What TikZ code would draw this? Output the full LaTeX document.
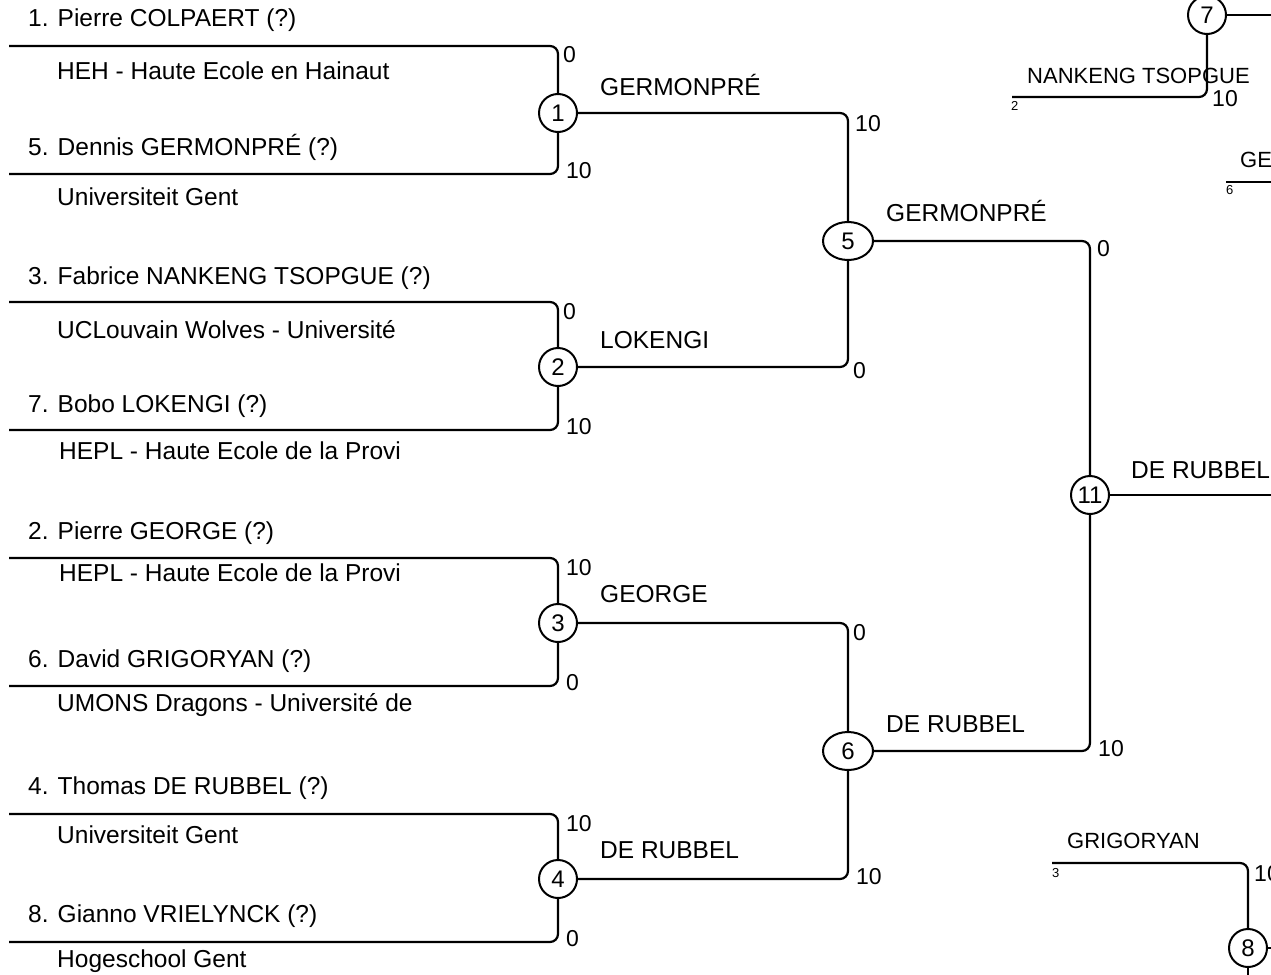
\documentclass[tikz,border=0pt]{standalone}
\usepackage{fontspec}
\setmainfont{Liberation Sans}
\usetikzlibrary{shapes.geometric}
\begin{document}
\begin{tikzpicture}[x=1pt,y=-1pt,
  wire/.style={line width=2.2pt, rounded corners=8pt},
  mnode/.style={circle, draw, line width=2pt, minimum size=38pt, inner sep=0pt, font=\fontsize{24}{26}\selectfont},
  enode/.style={ellipse, draw, line width=2pt, minimum width=50pt, minimum height=38pt, inner sep=0pt, font=\fontsize{24}{26}\selectfont},
  txt/.style={anchor=base west, inner sep=0pt, font=\fontsize{24.5}{26}\selectfont},
  sc/.style={anchor=base west, inner sep=0pt, font=\fontsize{23}{25}\selectfont},
  lbl/.style={anchor=base west, inner sep=0pt, font=\fontsize{22}{24}\selectfont},
  tiny/.style={anchor=base west, inner sep=0pt, font=\fontsize{13}{14}\selectfont}]
\useasboundingbox (0,0) rectangle (1271,974);
\clip (0,0) rectangle (1271,974);

% ---------- round 1 nodes ----------
\node[mnode] (c1) at (558,113) {1};
\node[mnode] (c2) at (558,367) {2};
\node[mnode] (c3) at (558,623) {3};
\node[mnode] (c4) at (558,879) {4};
% ---------- round 2 / 3 nodes ----------
\node[enode] (c5) at (848,241) {5};
\node[enode] (c6) at (848,751) {6};
\node[mnode] (c11) at (1090,495) {11};
% ---------- partial nodes on the right ----------
\node[mnode] (c7) at (1207,15) {7};
\node[mnode] (c8) at (1248,948) {8};

% ---------- player lines ----------
\coordinate (p1) at (9,46);
\coordinate (p5) at (9,174);
\coordinate (p3) at (9,302);
\coordinate (p7) at (9,430);
\coordinate (p2) at (9,558);
\coordinate (p6) at (9,686);
\coordinate (p4) at (9,814);
\coordinate (p8) at (9,942);
\draw[wire] (p1) -| (c1.north);
\draw[wire] (p5) -| (c1.south);
\draw[wire] (p3) -| (c2.north);
\draw[wire] (p7) -| (c2.south);
\draw[wire] (p2) -| (c3.north);
\draw[wire] (p6) -| (c3.south);
\draw[wire] (p4) -| (c4.north);
\draw[wire] (p8) -| (c4.south);

% ---------- bracket connectors ----------
\draw[wire] (c1.east) -| (c5.north);
\draw[wire] (c2.east) -| (c5.south);
\draw[wire] (c3.east) -| (c6.north);
\draw[wire] (c4.east) -| (c6.south);
\draw[wire] (c5.east) -| (c11.north);
\draw[wire] (c6.east) -| (c11.south);
\coordinate (e11) at (1290,495);
\draw[wire] (c11.east) -- (e11);

% ---------- right side partial bracket ----------
\coordinate (q2) at (1012,97);
\draw[wire] (q2) -| (c7.south);
\coordinate (e7) at (1290,15);
\draw[wire] (c7.east) -- (e7);
\coordinate (q6) at (1226,182);
\coordinate (e6) at (1290,182);
\draw[wire] (q6) -- (e6);
\coordinate (q3) at (1052,863);
\draw[wire] (q3) -| (c8.north);
\coordinate (e8) at (1290,948);
\coordinate (s8) at (1248,995);
\draw[wire] (c8.east) -- (e8);
\draw[wire] (c8.south) -- (s8);

% ---------- player names and clubs ----------
\node[txt] (n1) at (28,27) {1. Pierre COLPAERT (?)};
\node[txt] (k1) at (57,79) {HEH - Haute Ecole en Hainaut};
\node[txt] (n5) at (28,155) {5. Dennis GERMONPRÉ (?)};
\node[txt] (k5) at (57,205) {Universiteit Gent};
\node[txt] (n3) at (28,284) {3. Fabrice NANKENG TSOPGUE (?)};
\node[txt] (k3) at (57,338) {UCLouvain Wolves - Université};
\node[txt] (n7) at (28,412) {7. Bobo LOKENGI (?)};
\node[txt] (k7) at (59,459) {HEPL - Haute Ecole de la Provi};
\node[txt] (n2) at (28,539) {2. Pierre GEORGE (?)};
\node[txt] (k2) at (59,581) {HEPL - Haute Ecole de la Provi};
\node[txt] (n6) at (28,667) {6. David GRIGORYAN (?)};
\node[txt] (k6) at (57,711) {UMONS Dragons - Université de};
\node[txt] (n4) at (28,794) {4. Thomas DE RUBBEL (?)};
\node[txt] (k4) at (57,843) {Universiteit Gent};
\node[txt] (n8) at (28,922) {8. Gianno VRIELYNCK (?)};
\node[txt] (k8) at (57,967) {Hogeschool Gent};

% ---------- round 1 scores ----------
\node[sc] (s1a) at (563,63) {0};
\node[sc] (s1b) at (566,178) {10};
\node[sc] (s2a) at (563,319) {0};
\node[sc] (s2b) at (566,434) {10};
\node[sc] (s3a) at (566,575) {10};
\node[sc] (s3b) at (566,690) {0};
\node[sc] (s4a) at (566,831) {10};
\node[sc] (s4b) at (566,946) {0};

% ---------- round 1 winners ----------
\node[txt] (w1) at (600,95) {GERMONPRÉ};
\node[txt] (w2) at (600,348) {LOKENGI};
\node[txt] (w3) at (600,602) {GEORGE};
\node[txt] (w4) at (600,858) {DE RUBBEL};

% ---------- round 2 scores and winners ----------
\node[sc] (s5a) at (855,131) {10};
\node[sc] (s5b) at (853,378) {0};
\node[sc] (s6a) at (853,640) {0};
\node[sc] (s6b) at (856,884) {10};
\node[txt] (w5) at (886,221) {GERMONPRÉ};
\node[txt] (w6) at (886,732) {DE RUBBEL};

% ---------- round 3 ----------
\node[sc] (s11a) at (1097,256) {0};
\node[sc] (s11b) at (1098,756) {10};
\node[txt] (w11) at (1131,478) {DE RUBBEL};

% ---------- right side labels ----------
\node[lbl] (r2) at (1027,83) {NANKENG TSOPGUE};
\node[sc] (r2s) at (1212,106) {10};
\node[tiny] (r2n) at (1011,110) {2};
\node[lbl] (r6) at (1240,167) {GE};
\node[tiny] (r6n) at (1226,194) {6};
\node[lbl] (r3) at (1067,848) {GRIGORYAN};
\node[sc] (r3s) at (1254,881) {10};
\node[tiny] (r3n) at (1052,877) {3};
\end{tikzpicture}
\end{document}
